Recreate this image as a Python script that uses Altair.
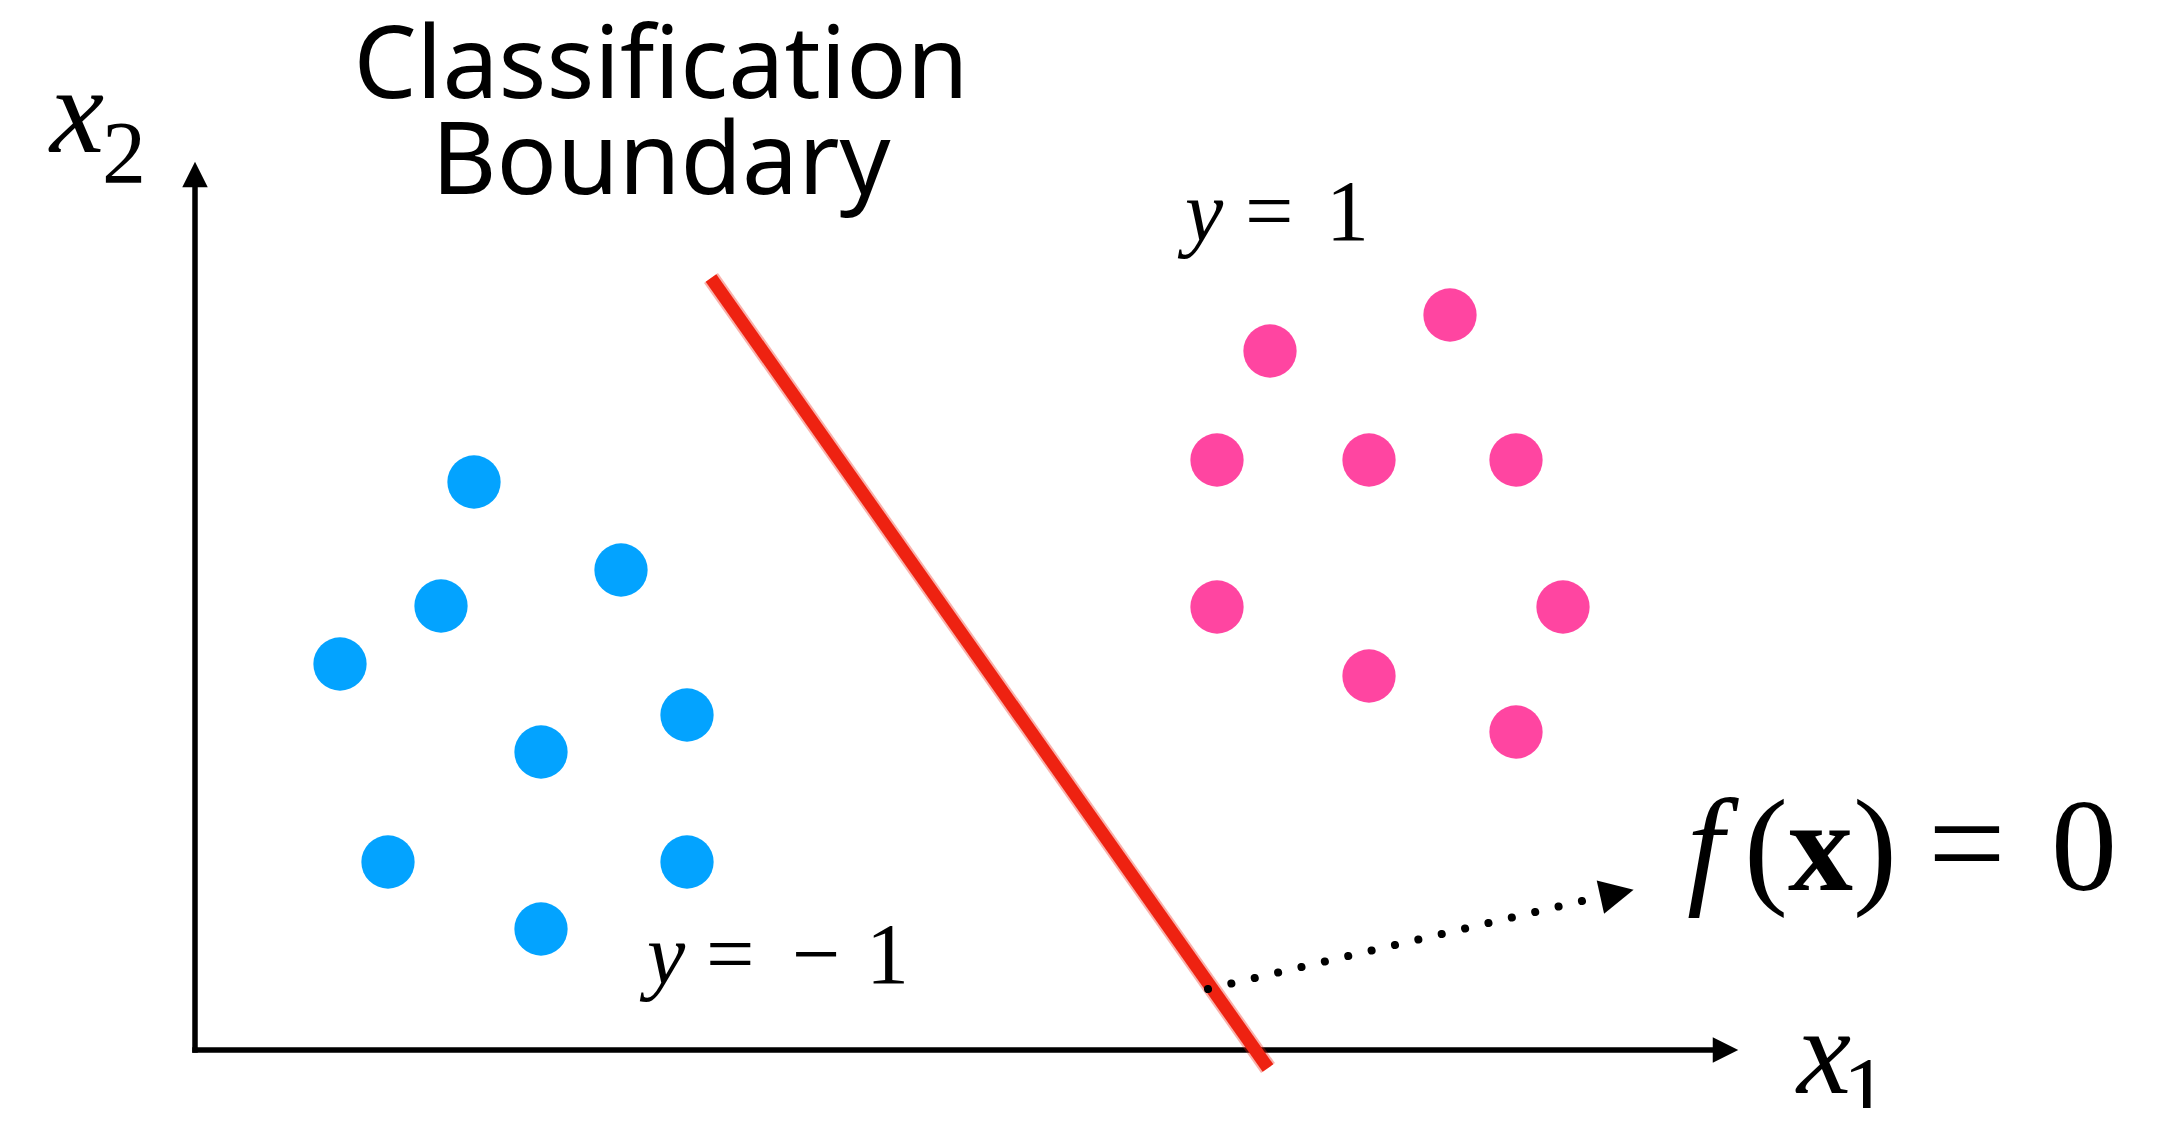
import altair as alt
import pandas as pd

# ---- data (x1 / x2 feature coordinates) ----
blue_x1 = [2.79, 4.26, 2.46, 1.45, 4.92, 3.46, 1.93, 4.92, 3.46]
blue_x2 = [5.68, 4.80, 4.44, 3.86, 3.35, 2.98, 1.88, 1.88, 1.21]
pink_x1 = [10.75, 12.55, 10.22, 11.74, 13.21, 10.22, 13.68, 11.74, 13.21]
pink_x2 = [6.99, 7.35, 5.90, 5.90, 5.90, 4.43, 4.43, 3.74, 3.18]

boundary_x1 = [5.16, 10.73]
boundary_x2 = [7.72, -0.18]

pointer_x1 = [10.13, 13.87]
pointer_x2 = [0.61, 1.49]

axis_x1 = [0.0, 0.0]
axis_x2 = [0.0, 0.0]
axis_x1_end = [0.0, 15.23]
axis_x2_end = [8.63, 0.0]

head_x1 = [0.0, 15.305, 14.22]
head_x2 = [8.755, 0.0, 1.565]
head_angle = [270, 0, 347.5]
head_size = [650, 650, 1156]

title_text = ["Classification", "Boundary"]
title_x1 = [4.66, 4.66]
title_x2 = [9.52, 8.56]

italic_text = ["x", "x", "f", "y", "y"]
italic_x1 = [-1.45, 16.02, 14.92, 4.52, 9.90]
italic_x2 = [8.98, -0.43, 1.60, 0.67, 8.10]
italic_size = [122, 122, 132, 86, 86]

bold_text = ["x"]
bold_x1 = [15.93]
bold_x2 = [1.60]
bold_size = [130]

regular_text = ["2", "1", "(", ")", "=", "0", "=", "\u2212", "1", "=", "1"]
regular_x1 = [-0.93, 16.48, 15.49, 16.58, 17.33, 18.56, 5.11, 5.97, 6.71, 10.50, 11.31]
regular_x2 = [8.68, -0.70, 1.60, 1.60, 1.60, 1.60, 0.67, 0.67, 0.67, 8.10, 8.10]
regular_size = [88, 90, 132, 132, 138, 132, 86, 86, 86, 86, 86]

# ---- frames ----
points = pd.DataFrame({
    "x1": blue_x1 + pink_x1,
    "x2": blue_x2 + pink_x2,
    "cls": ["y = -1"] * len(blue_x1) + ["y = 1"] * len(pink_x1),
})
boundary = pd.DataFrame({"x1": boundary_x1, "x2": boundary_x2})
pointer = pd.DataFrame({"x1": pointer_x1, "x2": pointer_x2})
axes_df = pd.DataFrame({"x1": axis_x1, "x2": axis_x2, "x1e": axis_x1_end, "x2e": axis_x2_end})
heads = pd.DataFrame({"x1": head_x1, "x2": head_x2, "angle": head_angle, "size": head_size})
titles = pd.DataFrame({"t": title_text, "x1": title_x1, "x2": title_x2})
italics = pd.DataFrame({"t": italic_text, "x1": italic_x1, "x2": italic_x2, "s": italic_size})
bolds = pd.DataFrame({"t": bold_text, "x1": bold_x1, "x2": bold_x2, "s": bold_size})
regulars = pd.DataFrame({"t": regular_text, "x1": regular_x1, "x2": regular_x2, "s": regular_size})

W, H = 2150, 1100
xs = alt.Scale(domain=[-1.87, -1.87 + W / 100], nice=False, zero=False)
ys = alt.Scale(domain=[-0.58, -0.58 + H / 100], nice=False, zero=False)
X = lambda f="x1": alt.X(f, type="quantitative", scale=xs, axis=None)
Y = lambda f="x2": alt.Y(f, type="quantitative", scale=ys, axis=None)

axis_lines = alt.Chart(axes_df).mark_rule(color="black", strokeWidth=5.5, strokeCap="square").encode(
    x=X(), y=Y(), x2="x1e", y2="x2e"
)

arrow_heads = alt.Chart(heads).mark_point(
    shape="M-1,-1L1,0L-1,1Z", filled=True, color="black", opacity=1, strokeWidth=0
).encode(
    x=X(), y=Y(),
    angle=alt.Angle("angle:Q", scale=None),
    size=alt.Size("size:Q", scale=None, legend=None),
)

dots = alt.Chart(points).mark_circle(size=2840, opacity=1).encode(
    x=X(), y=Y(),
    color=alt.Color("cls:N", scale=alt.Scale(domain=["y = -1", "y = 1"], range=["#03A3FF", "#FF45A1"]), legend=None),
)

red_halo = alt.Chart(boundary).mark_line(color="#EE2211", strokeWidth=17, strokeCap="butt", opacity=0.35).encode(
    x=X(), y=Y(), order=alt.Order("x1:Q")
)
red = alt.Chart(boundary).mark_line(color="#EE2211", strokeWidth=13, strokeCap="butt").encode(
    x=X(), y=Y(), order=alt.Order("x1:Q")
)

dotted = alt.Chart(pointer).mark_line(
    color="black", strokeWidth=8, strokeCap="round", strokeDash=[0.01, 24]
).encode(x=X(), y=Y(), order=alt.Order("x1:Q"))

title_layer = alt.Chart(titles).mark_text(
    font="Noto Sans", fontSize=100, align="center", baseline="alphabetic", color="black"
).encode(x=X(), y=Y(), text="t:N")

italic_layer = alt.Chart(italics).mark_text(
    font="Liberation Serif", fontStyle="italic", align="left", baseline="alphabetic", color="black"
).encode(x=X(), y=Y(), text="t:N", size=alt.Size("s:Q", scale=None, legend=None))

bold_layer = alt.Chart(bolds).mark_text(
    font="Liberation Serif", fontWeight="bold", align="left", baseline="alphabetic", color="black"
).encode(x=X(), y=Y(), text="t:N", size=alt.Size("s:Q", scale=None, legend=None))

regular_layer = alt.Chart(regulars).mark_text(
    font="Liberation Serif", align="left", baseline="alphabetic", color="black"
).encode(x=X(), y=Y(), text="t:N", size=alt.Size("s:Q", scale=None, legend=None))

chart = alt.layer(
    axis_lines, arrow_heads, dots, red_halo, red, dotted,
    title_layer, italic_layer, bold_layer, regular_layer,
).properties(
    width=W, height=H,
    autosize=alt.AutoSizeParams(type="none"),
    padding=0,
    background="white",
).configure_view(stroke=None)

chart.save("out.html", embed_options={"renderer": "svg", "actions": False})
